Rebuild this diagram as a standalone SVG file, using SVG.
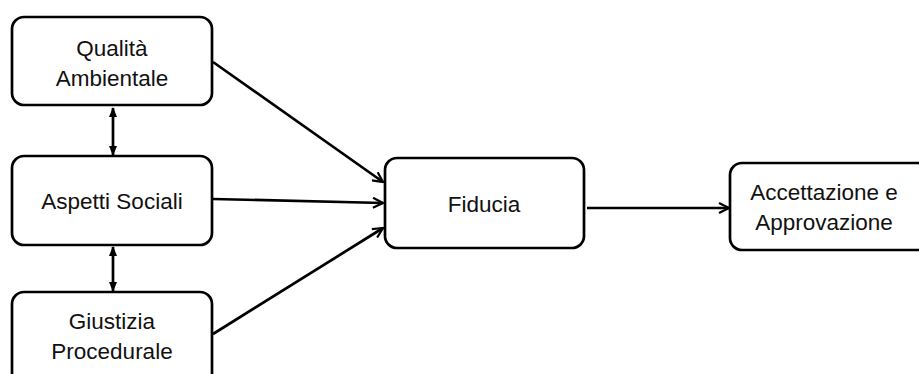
<svg xmlns="http://www.w3.org/2000/svg" width="919" height="374" viewBox="0 0 919 374">
<defs>
<style>
.box{fill:#fff;stroke:#000;stroke-width:2.7}
.lbl{font-family:"Liberation Sans",Arial,sans-serif;font-size:22.5px;fill:#111;text-anchor:middle}
.con{stroke:#000;stroke-width:2.7;fill:none}
</style>
<marker id="open" viewBox="0 0 12 12" refX="11" refY="6" markerWidth="12" markerHeight="12" markerUnits="userSpaceOnUse" orient="auto">
<path d="M1,1 L11,6 L1,11" fill="none" stroke="#000" stroke-width="2.2"/>
</marker>
<marker id="tri" viewBox="0 0 10 10" refX="9" refY="5" markerWidth="10" markerHeight="10" markerUnits="userSpaceOnUse" orient="auto-start-reverse">
<path d="M0,1 L10,5 L0,9 Z" fill="#000"/>
</marker>
</defs>
<g id="connectors">
<line class="con" x1="213" y1="62" x2="383" y2="182" marker-end="url(#open)"/>
<line class="con" x1="213" y1="199" x2="383" y2="203" marker-end="url(#open)"/>
<line class="con" x1="213" y1="334" x2="383" y2="228" marker-end="url(#open)"/>
<line class="con" x1="587" y1="208" x2="729" y2="208" marker-end="url(#open)"/>
<line class="con" x1="113" y1="108" x2="113" y2="155" marker-start="url(#tri)" marker-end="url(#tri)"/>
<line class="con" x1="113" y1="247" x2="113" y2="291" marker-start="url(#tri)" marker-end="url(#tri)"/>
</g>
<g id="qualita">
<rect class="box" x="12" y="17" width="200" height="88" rx="12"/>
<text class="lbl" x="112" y="56">Qualità</text>
<text class="lbl" x="112" y="86">Ambientale</text>
</g>
<g id="aspetti">
<rect class="box" x="12" y="156" width="200" height="89" rx="12"/>
<text class="lbl" x="112" y="209">Aspetti Sociali</text>
</g>
<g id="giustizia">
<rect class="box" x="12" y="292" width="200" height="95" rx="12"/>
<text class="lbl" x="112" y="329">Giustizia</text>
<text class="lbl" x="112" y="359">Procedurale</text>
</g>
<g id="fiducia">
<rect class="box" x="385" y="158" width="199" height="90" rx="12"/>
<text class="lbl" x="484" y="212">Fiducia</text>
</g>
<g id="accettazione">
<rect class="box" x="730" y="163" width="200" height="87" rx="12"/>
<text class="lbl" x="824" y="200">Accettazione e</text>
<text class="lbl" x="824" y="230">Approvazione</text>
</g>
</svg>
